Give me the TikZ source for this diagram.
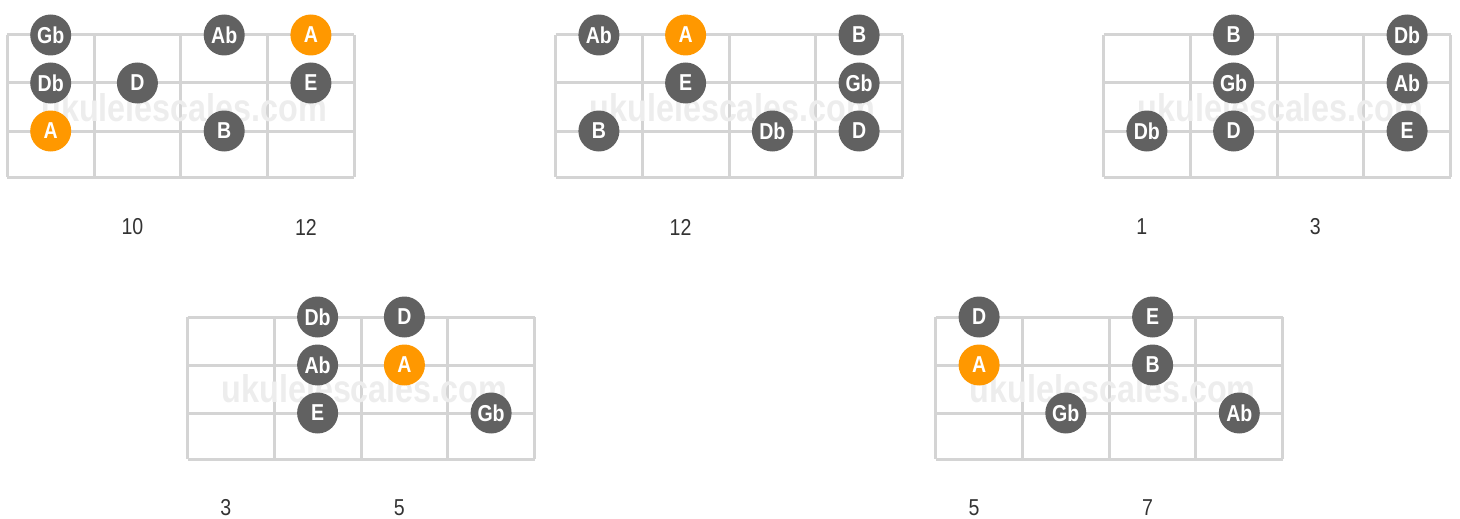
\documentclass[tikz,border=0pt]{standalone}
\usepackage{fontspec}
\setmainfont{Liberation Sans}
\newfontfamily\notefont[FakeStretch=0.85]{Liberation Sans}

\definecolor{notegray}{HTML}{616161}
\definecolor{noteorange}{HTML}{FF9800}
\definecolor{linegray}{HTML}{D4D4D4}
\definecolor{markgray}{HTML}{EDEDED}
\definecolor{numgray}{HTML}{333333}

\begin{document}
\begin{tikzpicture}[x=1pt,y=-1pt,
	boardline/.style={draw=linegray, line width=3pt},
	note/.style={circle, fill=notegray, text=white, inner sep=0pt, minimum size=41pt,
		font=\notefont\bfseries\fontsize{23}{23}\selectfont},
	root/.style={note, fill=noteorange},
	fretnum/.style={text=numgray, inner sep=0pt, font=\notefont\fontsize{23}{23}\selectfont},
	watermark/.style={text=markgray, inner sep=0pt}]
\useasboundingbox (0,0) rectangle (1460,519);

%position 1
\begin{scope}[shift={(7.3,35)}]
\foreach \y in {0,48,96,142} \draw[boardline] (0,\y) -- (347,\y);
\foreach \x in {0,86.75,173.5,260.25,347} \draw[boardline] (\x,0) -- (\x,142);
\node[watermark] (mark1) at (177,73) {\resizebox{286pt}{28pt}{\bfseries ukulelescales.com}};
\node[note] (p1Gb) at (43.4,0) {Gb};
\node[note] (p1Db) at (43.4,48) {Db};
\node[root] (p1A) at (43.4,96) {A};
\node[note] (p1D) at (130.1,48) {D};
\node[note] (p1Ab) at (216.9,0) {Ab};
\node[note] (p1B) at (216.9,96) {B};
\node[root] (p1Ahi) at (303.6,0) {A};
\node[note] (p1E) at (303.6,48) {E};
\node[fretnum] (p1ten) at (125.1,192) {10};
\node[fretnum] (p1twelve) at (298.6,192) {12};
\end{scope}

%position 2
\begin{scope}[shift={(555.5,35)}]
\foreach \y in {0,48,96,142} \draw[boardline] (0,\y) -- (347,\y);
\foreach \x in {0,86.75,173.5,260.25,347} \draw[boardline] (\x,0) -- (\x,142);
\node[watermark] (mark2) at (177,73) {\resizebox{286pt}{28pt}{\bfseries ukulelescales.com}};
\node[note] (p2Ab) at (43.4,0) {Ab};
\node[note] (p2B) at (43.4,96) {B};
\node[root] (p2A) at (130.1,0) {A};
\node[note] (p2E) at (130.1,48) {E};
\node[note] (p2Db) at (216.9,96) {Db};
\node[note] (p2Bhi) at (303.6,0) {B};
\node[note] (p2Gb) at (303.6,48) {Gb};
\node[note] (p2D) at (303.6,96) {D};
\node[fretnum] (p2twelve) at (125.1,192) {12};
\end{scope}

%position 3
\begin{scope}[shift={(1103.5,35)}]
\foreach \y in {0,48,96,142} \draw[boardline] (0,\y) -- (347,\y);
\foreach \x in {0,86.75,173.5,260.25,347} \draw[boardline] (\x,0) -- (\x,142);
\node[watermark] (mark3) at (177,73) {\resizebox{286pt}{28pt}{\bfseries ukulelescales.com}};
\node[note] (p3Db) at (43.4,96) {Db};
\node[note] (p3B) at (130.1,0) {B};
\node[note] (p3Gb) at (130.1,48) {Gb};
\node[note] (p3D) at (130.1,96) {D};
\node[note] (p3Dbhi) at (303.6,0) {Db};
\node[note] (p3Ab) at (303.6,48) {Ab};
\node[note] (p3E) at (303.6,96) {E};
\node[fretnum] (p3one) at (38.4,192) {1};
\node[fretnum] (p3three) at (211.9,192) {3};
\end{scope}

%position 4
\begin{scope}[shift={(187.5,317)}]
\foreach \y in {0,48,96,142} \draw[boardline] (0,\y) -- (347,\y);
\foreach \x in {0,86.75,173.5,260.25,347} \draw[boardline] (\x,0) -- (\x,142);
\node[watermark] (mark4) at (177,72) {\resizebox{286pt}{28pt}{\bfseries ukulelescales.com}};
\node[note] (p4Db) at (130.1,0) {Db};
\node[note] (p4Ab) at (130.1,48) {Ab};
\node[note] (p4E) at (130.1,96) {E};
\node[note] (p4D) at (216.9,0) {D};
\node[root] (p4A) at (216.9,48) {A};
\node[note] (p4Gb) at (303.6,96) {Gb};
\node[fretnum] (p4three) at (38.4,191) {3};
\node[fretnum] (p4five) at (211.9,191) {5};
\end{scope}

%position 5
\begin{scope}[shift={(935.7,317)}]
\foreach \y in {0,48,96,142} \draw[boardline] (0,\y) -- (347,\y);
\foreach \x in {0,86.75,173.5,260.25,347} \draw[boardline] (\x,0) -- (\x,142);
\node[watermark] (mark5) at (177,72) {\resizebox{286pt}{28pt}{\bfseries ukulelescales.com}};
\node[note] (p5D) at (43.4,0) {D};
\node[root] (p5A) at (43.4,48) {A};
\node[note] (p5Gb) at (130.1,96) {Gb};
\node[note] (p5E) at (216.9,0) {E};
\node[note] (p5B) at (216.9,48) {B};
\node[note] (p5Ab) at (303.6,96) {Ab};
\node[fretnum] (p5five) at (38.4,191) {5};
\node[fretnum] (p5seven) at (211.9,191) {7};
\end{scope}

\end{tikzpicture}
\end{document}
